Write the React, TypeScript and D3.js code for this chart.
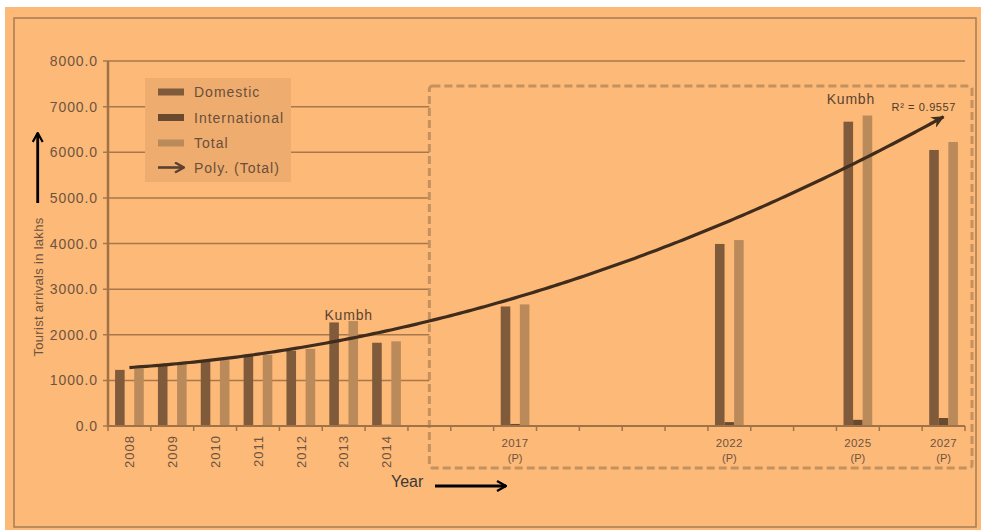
import React from "react";
import * as d3 from "d3";

// ---- data ----
const allYears = d3.range(2008, 2028).map(String);
const years = ["2008", "2009", "2010", "2011", "2012", "2013", "2014", "2017", "2022", "2025", "2027"];
const domestic = [1230, 1330, 1420, 1535, 1650, 2270, 1825, 2620, 3990, 6670, 6050];
const international = [15, 15, 17, 19, 20, 30, 29, 45, 85, 135, 175];
const total = [1260, 1355, 1445, 1560, 1690, 2300, 1855, 2665, 4075, 6805, 6225];
const projected = [false, false, false, false, false, false, false, true, true, true, true];
const yTicks = [0, 1000, 2000, 3000, 4000, 5000, 6000, 7000, 8000];
const seriesNames = ["Domestic", "International", "Total"];
const seriesColors = ["#7f5b3c", "#6a4a2e", "#bb8a5b"];
const annotations = [
  { year: "2013", value: 2330, text: "Kumbh" },
  { year: "2025", value: 7050, text: "Kumbh" },
];
const r2Label = "R² = 0.9557";

// quadratic least squares on total vs category index
function polyFit(xs: number[], ys: number[]) {
  const n = xs.length;
  let s = [0, 0, 0, 0, 0];
  let t = [0, 0, 0];
  for (let i = 0; i < n; i++) {
    const x = xs[i], y = ys[i];
    for (let k = 0; k < 5; k++) s[k] += Math.pow(x, k);
    for (let k = 0; k < 3; k++) t[k] += y * Math.pow(x, k);
  }
  const A = [
    [s[0], s[1], s[2], t[0]],
    [s[1], s[2], s[3], t[1]],
    [s[2], s[3], s[4], t[2]],
  ];
  for (let c = 0; c < 3; c++) {
    for (let r = c + 1; r < 3; r++) {
      const f = A[r][c] / A[c][c];
      for (let k = c; k < 4; k++) A[r][k] -= f * A[c][k];
    }
  }
  const coef = [0, 0, 0];
  for (let r = 2; r >= 0; r--) {
    let v = A[r][3];
    for (let k = r + 1; k < 3; k++) v -= A[r][k] * coef[k];
    coef[r] = v / A[r][r];
  }
  return coef;
}

const W = 981, H = 530;
const FONT = "'Liberation Sans', Arial, sans-serif";

export default function App() {
  const left = 108, right = 965, top = 61, bottom = 426;
  const x = d3.scaleBand<string>().domain(allYears).range([left, right]).paddingInner(0.33).paddingOuter(0.165);
  const step = x.step();
  const xs = d3.scaleBand<string>().domain(seriesNames).range([0, x.bandwidth()]);
  const y = d3.scaleLinear().domain([0, 8000]).range([bottom, top]);
  const center = (yr: string) => left + (allYears.indexOf(yr) + 0.5) * step;

  const idx = years.map((yr) => allYears.indexOf(yr));
  const coef = polyFit(idx, total);
  const curvePts = d3.range(0, 19.0001, 0.1).map((i) => [left + (i + 0.5) * step, y(coef[0] + coef[1] * i + coef[2] * i * i)] as [number, number]);
  const line = d3.line().curve(d3.curveLinear)(curvePts) || "";

  const series = [domestic, international, total];
  const boxL = center("2015"), boxT = y(7450), boxR = right + 7, boxB = bottom + 42;

  const tickColor = "#6e5440";

  return (
    <svg width={W} height={H} style={{ position: "absolute", left: 0, top: 0 }} fontFamily={FONT}>
      <defs>
        <marker id="trendArrow" viewBox="0 0 14 12" refX="12" refY="6" markerWidth="14" markerHeight="12" markerUnits="userSpaceOnUse" orient="auto">
          <path d="M0,0 L13,6 L0,12 L4,6 Z" fill="#3f2c1c" />
        </marker>
        <marker id="blackArrow" viewBox="0 0 12 12" refX="11" refY="6" markerWidth="12" markerHeight="12" markerUnits="userSpaceOnUse" orient="auto">
          <path d="M2,1 L11,6 L2,11" fill="none" stroke="#000" strokeWidth="2.2" />
        </marker>
        <marker id="legArrow" viewBox="0 0 12 12" refX="11" refY="6" markerWidth="12" markerHeight="12" markerUnits="userSpaceOnUse" orient="auto">
          <path d="M2,1 L11,6 L2,11" fill="none" stroke="#5a4030" strokeWidth="2.4" />
        </marker>
      </defs>
      <rect x={0} y={0} width={W} height={H} fill="#ffffff" />
      <rect x={5} y={7} width={W - 5} height={H - 7} fill="#fdb978" />
      <rect x={14} y={18} width={962} height={509} fill="none" stroke="#a57c55" strokeWidth={1.5} />

      {/* gridlines */}
      {yTicks.filter((t) => t > 0).map((t) => (
        <line key={t} x1={left - 5} x2={right} y1={y(t)} y2={y(t)} stroke="#a8784a" strokeWidth={1.5} />
      ))}
      <line x1={left - 5} x2={left} y1={y(0)} y2={y(0)} stroke="#a8784a" strokeWidth={1.5} />

      {/* dashed projection box */}
      <rect x={boxL} y={boxT} width={boxR - boxL} height={boxB - boxT} rx={3} fill="#fdb978" stroke="#c4925f" strokeWidth={3} strokeDasharray="8,4" />

      {/* y tick labels */}
      {yTicks.map((t) => (
        <text key={t} x={98} y={y(t)} dy="0.36em" textAnchor="end" fontSize={14} letterSpacing={0.9} fill={tickColor}>
          {t.toFixed(1)}
        </text>
      ))}

      {/* bars */}
      {years.map((yr, i) => (
        <g key={yr} transform={`translate(${x(yr)},0)`}>
          {series.map((s, k) => (
            <rect key={k} x={xs(seriesNames[k])} y={y(s[i])} width={xs.bandwidth()} height={y(0) - y(s[i])} fill={seriesColors[k]} />
          ))}
        </g>
      ))}

      {/* axes */}
      <line x1={left} x2={left} y1={top} y2={bottom} stroke="#a07248" strokeWidth={2.5} />
      <line x1={left} x2={right} y1={bottom} y2={bottom} stroke="#a07248" strokeWidth={2} />
      {d3.range(0, allYears.length + 1).map((k) => (
        <line key={k} x1={left + k * step} x2={left + k * step} y1={bottom} y2={bottom + 5} stroke="#a07248" strokeWidth={1.5} />
      ))}

      {/* x labels */}
      {years.map((yr, i) =>
        projected[i] ? (
          <g key={yr}>
            <text x={center(yr)} y={447} textAnchor="middle" fontSize={11.5} letterSpacing={0.4} fill={tickColor}>{yr}</text>
            <text x={center(yr)} y={462} textAnchor="middle" fontSize={11} fill={tickColor}>(P)</text>
          </g>
        ) : (
          <text key={yr} transform={`translate(${center(yr)},${435}) rotate(-90)`} textAnchor="end" dy="0.36em" fontSize={13} letterSpacing={1} fill={tickColor}>
            {yr}
          </text>
        )
      )}

      {/* trend */}
      <path d={line} fill="none" stroke="#3f2c1c" strokeWidth={3.2} markerEnd="url(#trendArrow)" />
      <text x={956} y={111} textAnchor="end" fontSize={11} letterSpacing={0.6} fill="#4f3b2b">{r2Label}</text>

      {annotations.map((a, i) => (
        <text key={i} x={center(a.year) + (a.year === "2025" ? -7 : 5)} y={y(a.value)} textAnchor="middle" fontSize={14} letterSpacing={0.8} fill="#5a4433">{a.text}</text>
      ))}

      {/* axis titles */}
      <text transform="translate(38,287) rotate(-90)" textAnchor="middle" dy="0.35em" fontSize={13} letterSpacing={0.3} fill={tickColor}>Tourist arrivals in lakhs</text>
      <line x1={37.7} x2={37.7} y1={203} y2={133} stroke="#000" strokeWidth={2.8} markerEnd="url(#blackArrow)" />
      <text x={391} y={487} fontSize={16} fill="#3a3a3a">Year</text>
      <line x1={435} x2={506} y1={486} y2={486} stroke="#000" strokeWidth={2.8} markerEnd="url(#blackArrow)" />

      {/* legend */}
      <rect x={145} y={78} width={146} height={104} fill="#eeac6e" />
      {seriesNames.map((n, k) => (
        <g key={n} transform={`translate(0,${92 + k * 25.5})`}>
          <rect x={158} y={-3.5} width={26} height={7} fill={seriesColors[k]} />
          <text x={194} y={0} dy="0.36em" fontSize={14} letterSpacing={1} fill="#6a4f3c">{n}</text>
        </g>
      ))}
      <g transform={`translate(0,${92 + 3 * 25.5 - 1})`}>
        <line x1={158} x2={184} y1={0} y2={0} stroke="#5a4030" strokeWidth={2.6} markerEnd="url(#legArrow)" />
        <text x={194} y={0} dy="0.36em" fontSize={14} letterSpacing={1} fill="#6a4f3c">Poly. (Total)</text>
      </g>
    </svg>
  );
}
